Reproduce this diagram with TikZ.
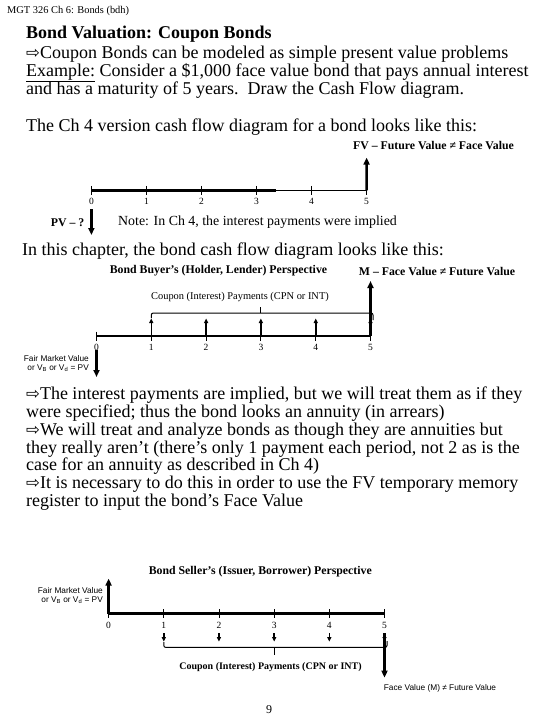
\documentclass[tikz,border=0pt]{standalone}
\usepackage{fontspec}
\setmainfont{Liberation Serif}
\setsansfont{Liberation Sans}
\newfontfamily\symfont{DejaVu Sans}
\usetikzlibrary{arrows.meta,calc}
\newcommand{\warr}{{\symfont\fontsize{16.5}{16.5}\selectfont ⇨}}
\begin{document}
\begin{tikzpicture}[x=1pt,y=-1pt,
  body/.style={anchor=base west,inner sep=0pt,font=\fontsize{18}{18}\selectfont},
  tickmark/.style={line width=0.9pt},
  thickax/.style={line width=2.4pt},
  thinax/.style={line width=1.1pt},
  bigarrow/.style={line width=2.4pt,-{Triangle[length=7pt,width=6pt]}},
  smallarrow/.style={line width=1.6pt,-{Triangle[length=4.5pt,width=4pt]}},
  bracket/.style={line width=1pt,rounded corners=2pt},
  num/.style={inner sep=0pt,font=\fontsize{9.5}{9.5}\selectfont},
  blab/.style={inner sep=0pt,font=\bfseries\fontsize{11.8}{12}\selectfont},
  slab/.style={inner sep=0pt,font=\sffamily\fontsize{8.3}{9}\selectfont,align=right,anchor=east},
]
\fill[white] (0,0) rectangle (540,720);
\useasboundingbox (0,0) rectangle (540,720);

% ---------- header and opening text ----------
\node[anchor=base west,inner sep=0pt,font=\fontsize{10.4}{10.4}\selectfont] (hdr) at (7,13.8) {MGT 326 Ch 6: Bonds (bdh)};
\node[body,font=\bfseries\fontsize{18}{18}\selectfont] (title) at (26,38.6) {Bond Valuation: Coupon Bonds};
\node[body] (l1) at (26,58.6) {\warr Coupon Bonds can be modeled as simple present value problems};
\node[body] (l2) at (26,76.4) {\underline{Example:} Consider a \$1,000 face value bond that pays annual interest};
\node[body] (l3) at (26,94.6) {and has a maturity of 5 years.\ \ Draw the Cash Flow diagram.};
\node[body] (l4) at (26,131) {The Ch 4 version cash flow diagram for a bond looks like this:};

% ---------- diagram 1 ----------
\foreach \i in {0,...,5} {\coordinate (a\i) at ({91.4+55.04*\i},190.3);}
\coordinate (athick) at (276,190.3);
\draw[thinax] (a0) -- (a5);
\draw[thickax] (a0) -- (athick);
\foreach \i in {0,...,5} {
  \draw[tickmark] ($(a\i)+(0,-4.5)$) -- ($(a\i)+(0,4.5)$);
  \node[num] (an\i) at ($(a\i)+(0,11)$) {\i};
}
\coordinate (fvtip) at (366.6,157.6);
\draw[bigarrow] (a5) -- (fvtip);
\node[blab] (fvlab) at (433.5,145.5) {FV – Future Value ≠ Face Value};
\coordinate (pvtop) at (91.4,209);
\coordinate (pvtip) at (91.4,235);
\draw[bigarrow] (pvtop) -- (pvtip);
\node[blab,anchor=east] (pvlab) at (84.5,223) {PV – ?};
\node[inner sep=0pt,anchor=west,font=\fontsize{13.9}{14}\selectfont] (note) at (118,222) {Note: In Ch 4, the interest payments were implied};

\node[body] (l5) at (22,255) {In this chapter, the bond cash flow diagram looks like this:};

% ---------- diagram 2 (buyer) ----------
\foreach \i in {0,...,5} {\coordinate (b\i) at ({96.5+54.8*\i},336);}
\coordinate (bthick) at (280,336);
\draw[thinax] (b0) -- (b5);
\draw[thickax] (b0) -- (bthick);
\foreach \i in {0,...,5} {
  \draw[tickmark] ($(b\i)+(0,-4.5)$) -- ($(b\i)+(0,4.5)$);
  \node[num] (bn\i) at ($(b\i)+(0,11)$) {\i};
}
\foreach \i in {1,...,5} {
  \coordinate (bt\i) at ($(b\i)+(0,-17.5)$);
  \draw[smallarrow] (b\i) -- (bt\i);
}
\coordinate (mtip) at ($(b5)+(0,-55)$);
\draw[bigarrow] (b5) -- (mtip);
\coordinate (bbl) at ($(b1)+(0,-18)$);
\coordinate (bbr) at ($(b5)+(2.5,-16)$);
\draw[bracket] (bbl) -- ($(b1)+(0,-23)$) -- ($(b5)+(2.5,-23)$) -- (bbr);
\draw[line width=1pt] ($(b3)+(0,-23)$) -- ($(b3)+(0,-29)$);
\node[inner sep=0pt,font=\fontsize{10.4}{11}\selectfont] (bcpn) at (240,297) {Coupon (Interest) Payments (CPN or INT)};
\node[blab] (buyer) at (218.5,270.5) {Bond Buyer’s (Holder, Lender) Perspective};
\node[blab] (mlab) at (437,271) {M – Face Value ≠ Future Value};
\coordinate (bfvtop) at ($(b0)+(0,14)$);
\coordinate (bfvtip) at ($(b0)+(0,41)$);
\draw[bigarrow] (bfvtop) -- (bfvtip);
\node[slab] (bfair) at (89,363.5) {Fair Market Value\\or V\textsubscript{B} or V\textsubscript{d} = PV};

% ---------- bullet text ----------
\node[body] (p1) at (26,399) {\warr The interest payments are implied, but we will treat them as if they};
\node[body] (p2) at (26,417) {were specified; thus the bond looks an annuity (in arrears)};
\node[body] (p3) at (26,435) {\warr We will treat and analyze bonds as though they are annuities but};
\node[body] (p4) at (26,453) {they really aren’t (there’s only 1 payment each period, not 2 as is the};
\node[body] (p5) at (26,470.5) {case for an annuity as described in Ch 4)};
\node[body] (p6) at (26,488.5) {\warr It is necessary to do this in order to use the FV temporary memory};
\node[body] (p7) at (26,506.5) {register to input the bond’s Face Value};

% ---------- diagram 3 (seller) ----------
\node[blab] (seller) at (260.3,572) {Bond Seller’s (Issuer, Borrower) Perspective};
\foreach \i in {0,...,5} {\coordinate (c\i) at ({108.6+55.18*\i},613.6);}
\draw[thickax] (c0) -- (c5);
\foreach \i in {0,...,5} {
  \draw[tickmark] ($(c\i)+(0,-4.5)$) -- ($(c\i)+(0,4.5)$);
  \node[num] (cn\i) at ($(c\i)+(0,11.5)$) {\i};
}
\coordinate (cpvtip) at ($(c0)+(0,-35)$);
\draw[bigarrow] (c0) -- (cpvtip);
\node[slab] (cfair) at (103,595.5) {Fair Market Value\\or V\textsubscript{B} or V\textsubscript{d} = PV};
\foreach \i in {1,...,5} {
  \coordinate (cs\i) at ($(c\i)+(0,19.5)$);
  \coordinate (ce\i) at ($(c\i)+(0,28)$);
  \draw[smallarrow] (cs\i) -- (ce\i);
}
\coordinate (cbl) at ($(c1)+(0,28.5)$);
\coordinate (cbr) at ($(c5)+(2.5,27.5)$);
\draw[bracket] (cbl) -- ($(c1)+(0,33.8)$) -- ($(c5)+(2.5,33.8)$) -- (cbr);
\draw[line width=1pt] ($(c3)+(0,33.8)$) -- ($(c3)+(0,41.5)$);
\node[inner sep=0pt,font=\bfseries\fontsize{10}{11}\selectfont] (ccpn) at (270.5,667) {Coupon (Interest) Payments (CPN or INT)};
\coordinate (cmtip) at ($(c5)+(0,64)$);
\draw[bigarrow] (cs5) -- (cmtip);
\node[inner sep=0pt,font=\sffamily\fontsize{8.3}{9}\selectfont] (facelab) at (440,688) {Face Value (M) ≠ Future Value};

\node[inner sep=0pt,font=\fontsize{12}{12}\selectfont] (pg) at (269,710) {9};
\end{tikzpicture}
\end{document}
